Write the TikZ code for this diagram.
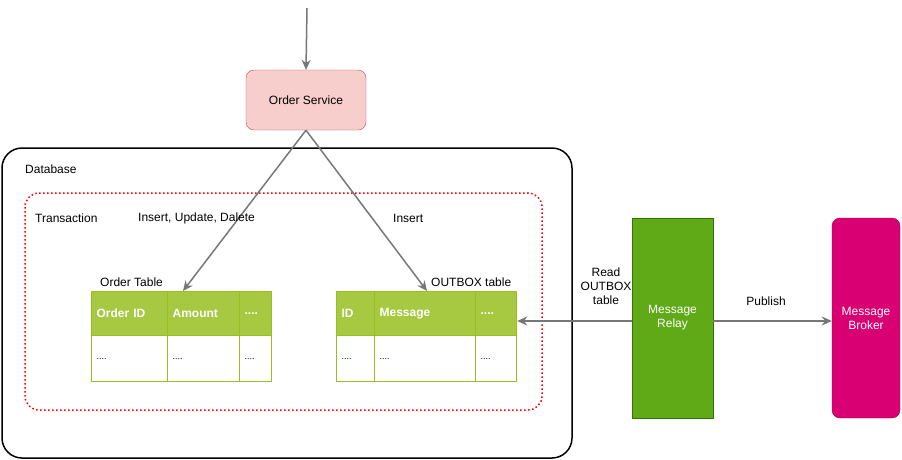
\documentclass[tikz,border=0pt]{standalone}
\usepackage{fontspec}
\setmainfont{Liberation Sans}
\usetikzlibrary{arrows.meta}

\definecolor{flowgray}{HTML}{777777}
\definecolor{svcfill}{HTML}{F8CECC}
\definecolor{svcline}{HTML}{B85450}
\definecolor{hdrfill}{HTML}{A7C942}
\definecolor{hdrline}{HTML}{98BF21}
\definecolor{relayfill}{HTML}{60A917}
\definecolor{relayline}{HTML}{2D7600}
\definecolor{brokerfill}{HTML}{D80073}
\definecolor{brokerline}{HTML}{A50040}

\tikzset{
  flow/.style={draw=flowgray, line width=1.5pt, -{Stealth[length=10pt,width=9pt]}},
  lbl/.style={font=\fontsize{12}{14}\selectfont, inner sep=0pt},
  hcell/.style={draw=hdrline, fill=hdrfill, line width=1.2pt, minimum height=44pt, anchor=north west,
    inner xsep=5pt, align=left, text=white, font=\fontsize{12}{14}\selectfont\bfseries},
  bcell/.style={draw=hdrline, fill=white, line width=1.2pt, minimum height=46pt, anchor=north west,
    inner xsep=5pt, align=left, font=\fontsize{9}{11}\selectfont}
}

\begin{document}
\begin{tikzpicture}[x=1pt, y=-1pt]
        \useasboundingbox (0,0) rectangle (902,459);
        % database and transaction frames
        \draw [line width=1.5pt, rounded corners=20pt] (2,148) rectangle (572,458);
        \node [lbl, anchor=west] (db) at (25,169) {Database};
        \draw [red, line width=1.5pt, dash pattern=on 1.5pt off 2.5pt, rounded corners=14pt] (25,193) rectangle (542,410);
        \node [lbl, anchor=west] (tx) at (35,218) {Transaction};

        % services
        \node [draw=svcline, fill=svcfill, rounded corners=8pt, minimum width=120pt, minimum height=60pt, lbl] (os) at (306,100) {Order Service};
        \node [draw=relayline, fill=relayfill, minimum width=81pt, minimum height=200pt, lbl, text=white, align=center] (relay) at (672.5,318) {Message\\Relay};
        \node [draw=brokerline, fill=brokerfill, rounded corners=8pt, minimum width=68pt, minimum height=200pt, lbl, text=white, align=center] (broker) at (866,318) {Message\\Broker};

        % order table
        \node [lbl, anchor=west] (otl) at (100,282) {Order Table};
        \node [hcell, text width=66pt] (oh1) at (91,291) {Order ID};
        \node [hcell, text width=62pt] (oh2) at (167,291) {Amount};
        \node [hcell, text width=22pt] (oh3) at (239,291) {....};
        \node [bcell, text width=66pt] (ob1) at (91,335) {....};
        \node [bcell, text width=62pt] (ob2) at (167,335) {....};
        \node [bcell, text width=22pt] (ob3) at (239,335) {....};

        % outbox table
        \node [lbl, anchor=west] (xtl) at (431,282) {OUTBOX table};
        \node [hcell, text width=28pt] (xh1) at (336,291) {ID};
        \node [hcell, text width=91pt] (xh2) at (374,291) {Message};
        \node [hcell, text width=31pt] (xh3) at (475,291) {....};
        \node [bcell, text width=28pt] (xb1) at (336,335) {....};
        \node [bcell, text width=91pt] (xb2) at (374,335) {....};
        \node [bcell, text width=31pt] (xb3) at (475,335) {....};

        % connectors
        \coordinate (req) at (307,8);
        \draw [flow] (req) -- (os.north);
        \draw [flow] (os.south) -- (oh2.north west -| 183,0);
        \draw [flow] (os.south) -- (xh2.north west -| 427,0);
        \draw [flow] ([yshift=-3pt]relay.west) -- ([yshift=-3pt]relay.west -| xh3.east);
        \draw [flow] ([yshift=-3pt]relay.east) -- ([yshift=-3pt]broker.west);

        % edge labels
        \node [lbl, anchor=west] (iud) at (138,218) {Insert, Update, Dalete};
        \node [lbl, anchor=west] (ins) at (393,218) {Insert};
        \node [lbl, align=center] (rd) at (606,286) {Read\\OUTBOX\\table};
        \node [lbl] (pub) at (766,301) {Publish};
    \end{tikzpicture}
\end{document}
